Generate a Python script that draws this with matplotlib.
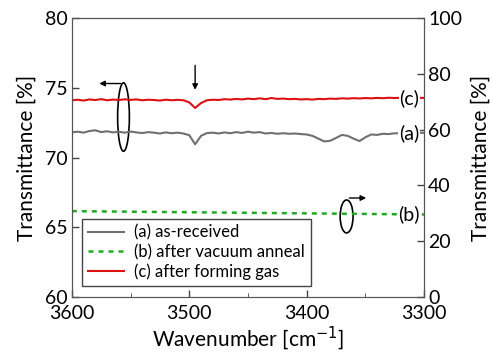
import matplotlib.pyplot as plt
from matplotlib.patches import Ellipse

plt.rcParams['font.family'] = ['Lato', 'DejaVu Sans']

# Wavenumber axis (cm^-1), 5 cm^-1 steps
wavenumber = list(range(3600, 3299, -5))

# (a) as-received, left axis
trans_a = [71.80, 71.85, 71.78, 71.90, 71.95, 71.82, 71.88, 71.80, 71.85, 71.78,
           71.86, 71.80, 71.75, 71.82, 71.78, 71.72, 71.80, 71.74, 71.78, 71.72,
           71.60, 70.95, 71.55, 71.75, 71.78, 71.72, 71.80, 71.74, 71.82, 71.76,
           71.85, 71.78, 71.82, 71.72, 71.76, 71.70, 71.74, 71.70, 71.72, 71.68,
           71.65, 71.55, 71.35, 71.15, 71.20, 71.40, 71.62, 71.55, 71.35, 71.18,
           71.45, 71.65, 71.62, 71.70, 71.68, 71.74, 71.72, 71.76, 71.74, 71.78,
           71.76]

# (c) after forming gas, left axis
trans_c = [74.10, 74.14, 74.08, 74.16, 74.12, 74.18, 74.10, 74.15, 74.12, 74.17,
           74.13, 74.16, 74.10, 74.14, 74.12, 74.08, 74.14, 74.10, 74.13, 74.10,
           73.95, 73.55, 73.90, 74.10, 74.14, 74.12, 74.18, 74.15, 74.20, 74.16,
           74.22, 74.18, 74.24, 74.18, 74.26, 74.20, 74.22, 74.18, 74.20, 74.16,
           74.18, 74.15, 74.20, 74.18, 74.22, 74.20, 74.24, 74.22, 74.25, 74.23,
           74.26, 74.24, 74.27, 74.25, 74.28, 74.26, 74.28, 74.27, 74.28, 74.27,
           74.27]

# (b) after vacuum anneal, right axis
wavenumber_b = [3600, 3550, 3500, 3450, 3400, 3350, 3300]
trans_b = [30.8, 30.6, 30.4, 30.2, 30.0, 29.8, 29.6]

fig = plt.figure(figsize=(4.92, 3.58), dpi=100)
ax = fig.add_axes([0.146, 0.170, 0.716, 0.780])
ax2 = ax.twinx()

la, = ax.plot(wavenumber, trans_a, color='#707070', lw=1.5, label='(a) as-received')
lc, = ax.plot(wavenumber, trans_c, color='#dd1111', lw=1.5, label='(c) after forming gas')
lb, = ax2.plot(wavenumber_b, trans_b, color='#22aa22', lw=1.8, dashes=(2, 2),
               label='(b) after vacuum anneal')

ax.set_xlim(3600, 3300)
ax.set_ylim(60, 80)
ax2.set_ylim(0, 100)
ax.set_xticks([3600, 3500, 3400, 3300])
ax.set_xticks([3550, 3450, 3350], minor=True)
ax.set_yticks([60, 65, 70, 75, 80])
ax2.set_yticks([0, 20, 40, 60, 80, 100])

for a in (ax, ax2):
    a.tick_params(direction='in', labelsize=14, length=5, width=1, color='#444444')
    a.tick_params(which='minor', direction='in', length=3, color='#444444')
    for s in a.spines.values():
        s.set_color('#555555')
ax.tick_params(axis='x', pad=6)
ax.tick_params(axis='y', pad=3)
ax2.tick_params(axis='y', pad=3)

ax.set_xlabel('Wavenumber [cm$^{-1}$]', fontsize=15, labelpad=1)
ax.set_ylabel('Transmittance [%]', fontsize=15, labelpad=6)
ax2.set_ylabel('Transmittance [%]', fontsize=15, labelpad=6)

# curve labels at right end
for y, t, a in [(74.27, '(c)', ax), (71.76, '(a)', ax), (29.6, '(b)', ax2)]:
    a.text(3304, y, t, ha='right', va='center', fontsize=14,
           bbox=dict(facecolor='white', edgecolor='none', pad=0.5))

# left ellipse + arrow
ax.add_patch(Ellipse((3556, 72.9), 10, 4.9, fill=False, ec='black', lw=1.2))
ax.annotate('', xy=(3579, 75.3), xytext=(3556, 75.3),
            arrowprops=dict(arrowstyle='-|>', color='black', lw=1, mutation_scale=8))
# right ellipse + arrow
ax2.add_patch(Ellipse((3366, 28.9), 11, 11.8, fill=False, ec='black', lw=1.2))
ax2.annotate('', xy=(3347, 35.5), xytext=(3366, 35.5),
             arrowprops=dict(arrowstyle='-|>', color='black', lw=1, mutation_scale=8))
# downward arrow at dip
ax.annotate('', xy=(3495, 74.65), xytext=(3495, 76.8),
            arrowprops=dict(arrowstyle='-|>', color='black', lw=1, mutation_scale=8))

leg = ax.legend([la, lb, lc], [la.get_label(), lb.get_label(), lc.get_label()],
                loc='lower left', fontsize=12, fancybox=False, edgecolor='#444444',
                framealpha=1, borderpad=0.35, labelspacing=0.2, handlelength=2.2,
                handletextpad=0.6, bbox_to_anchor=(0.005, 0.01))
leg.get_frame().set_linewidth(1)
ax.set_zorder(ax2.get_zorder() + 1)
ax.patch.set_visible(False)

fig.savefig('out.png', dpi=100)
